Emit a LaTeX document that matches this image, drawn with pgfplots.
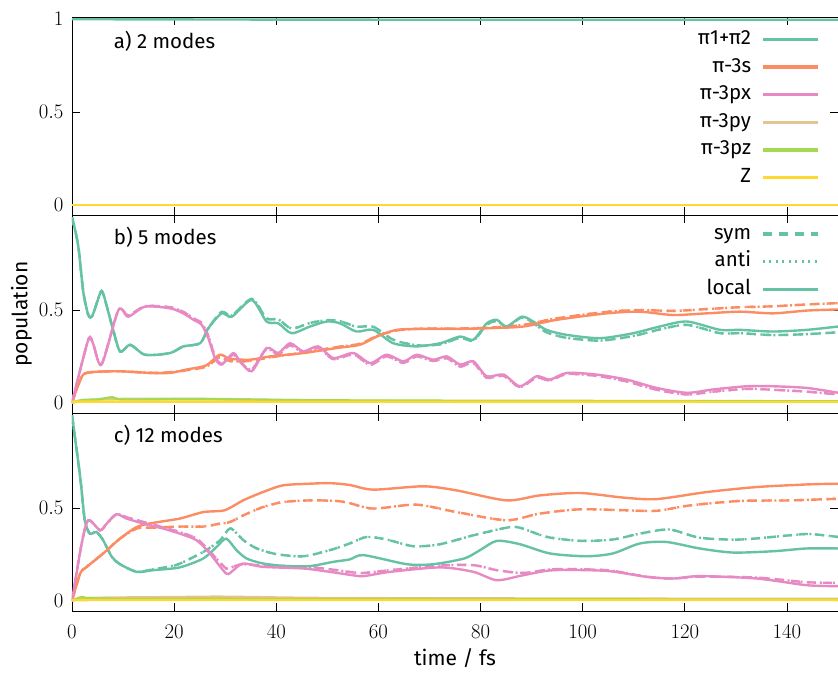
\documentclass[border=0pt]{standalone}
\usepackage{pgfplots}
\pgfplotsset{compat=1.18}
\usepackage{pgfplotstable}
\usepackage{fontspec}
\setmainfont{Fira Sans}

\definecolor{cG}{HTML}{66C2A5}
\definecolor{cO}{HTML}{FC8D62}
\definecolor{cP}{HTML}{E78AC3}
\definecolor{cT}{HTML}{E5C494}
\definecolor{cL}{HTML}{A6D854}
\definecolor{cY}{HTML}{FFD92F}

% ---- panel b (5 modes)
\pgfplotstableread{
t y
0 1.0
1.2 0.85
2.2 0.60
3.2 0.473
4.0 0.47
5.5 0.589
6.1 0.589
7.8 0.42
9.4 0.277
11.4 0.313
14.3 0.259
19.2 0.268
21.8 0.304
25.1 0.321
26.7 0.402
29.3 0.482
31.3 0.464
35.2 0.554
38.1 0.438
40.4 0.428
43.0 0.375
46.6 0.411
49.9 0.438
52.5 0.428
55.7 0.384
59.0 0.393
62.9 0.321
67.5 0.304
72.1 0.321
76.0 0.357
78.6 0.34
81.2 0.428
83.2 0.447
85.1 0.411
88.1 0.464
90.3 0.438
92.9 0.393
96.9 0.366
103.4 0.348
109.9 0.375
115.1 0.411
120.4 0.438
126.9 0.393
130.8 0.393
137.3 0.384
143.9 0.393
150 0.411
}\bGl
\pgfplotstableread{
t y
0 1.0
1.2 0.85
2.2 0.60
3.2 0.473
4.0 0.47
5.5 0.589
6.1 0.589
7.8 0.42
9.4 0.277
11.4 0.313
14.3 0.259
19.2 0.268
21.8 0.304
25.1 0.321
26.7 0.402
29.3 0.49
31.3 0.47
35.2 0.56
38.1 0.455
40.4 0.45
43.0 0.40
46.6 0.43
49.9 0.445
52.5 0.44
55.7 0.41
59.0 0.41
62.9 0.34
67.5 0.31
72.1 0.315
76.0 0.35
78.6 0.335
81.2 0.42
83.2 0.44
85.1 0.41
88.1 0.46
90.3 0.43
92.9 0.38
96.9 0.35
103.4 0.335
109.9 0.36
115.1 0.395
120.4 0.42
126.9 0.375
130.8 0.375
137.3 0.365
143.9 0.37
150 0.38
}\bGs
\pgfplotstableread{
t y
0 0
1.0 0.08
2.2 0.152
4.2 0.166
9.4 0.17
15.3 0.161
19.2 0.161
22.4 0.179
26.3 0.202
28.9 0.259
30.9 0.238
34.8 0.232
38.8 0.25
45.3 0.268
51.8 0.295
56.4 0.313
59.7 0.357
63.6 0.393
68.8 0.398
75.3 0.398
81.8 0.402
88.4 0.411
94.9 0.447
104.7 0.482
111.2 0.491
117.7 0.473
124.3 0.482
130.8 0.491
137.3 0.482
143.9 0.497
150 0.503
}\bOl
\pgfplotstableread{
t y
0 0
1.0 0.08
2.2 0.152
4.2 0.166
9.4 0.17
15.3 0.161
19.2 0.165
22.4 0.175
26.3 0.195
28.9 0.245
30.9 0.225
34.8 0.225
38.8 0.245
45.3 0.27
51.8 0.30
56.4 0.318
59.7 0.36
63.6 0.39
68.8 0.40
75.3 0.40
81.8 0.405
88.4 0.42
94.9 0.455
104.7 0.49
111.2 0.50
117.7 0.495
124.3 0.505
130.8 0.515
137.3 0.52
143.9 0.53
150 0.537
}\bOs
\pgfplotstableread{
t y
0 0
3.2 0.34
4.2 0.313
5.8 0.206
9.1 0.5
11.0 0.464
14.3 0.518
19.2 0.509
21.8 0.482
23.8 0.447
25.4 0.42
26.7 0.348
28.0 0.241
29.3 0.206
31.6 0.268
32.9 0.223
35.2 0.17
38.1 0.295
40.4 0.268
42.7 0.321
45.3 0.277
48.2 0.304
51.2 0.241
55.1 0.268
58.4 0.214
61.6 0.259
64.9 0.223
67.5 0.259
70.7 0.232
73.4 0.25
76.0 0.206
78.6 0.223
81.2 0.143
84.5 0.152
87.7 0.089
91.0 0.143
93.6 0.125
96.9 0.161
102.7 0.152
108.6 0.125
114.5 0.08
120.4 0.054
125.6 0.072
132.1 0.089
137.3 0.089
143.9 0.08
150 0.054
}\bPl
\pgfplotstableread{
t y
0 0
3.2 0.34
4.2 0.31
5.8 0.21
9.1 0.5
11.0 0.47
14.3 0.52
19.2 0.515
21.8 0.49
23.8 0.455
25.4 0.43
26.7 0.36
28.0 0.25
29.3 0.21
31.6 0.26
32.9 0.22
35.2 0.18
38.1 0.29
40.4 0.26
42.7 0.31
45.3 0.27
48.2 0.295
51.2 0.235
55.1 0.26
58.4 0.205
61.6 0.25
64.9 0.215
67.5 0.25
70.7 0.225
73.4 0.24
76.0 0.195
78.6 0.215
81.2 0.135
84.5 0.145
87.7 0.085
91.0 0.135
93.6 0.12
96.9 0.155
102.7 0.145
108.6 0.115
114.5 0.07
120.4 0.045
125.6 0.06
132.1 0.075
137.3 0.07
143.9 0.06
150 0.045
}\bPs

% ---- panel c (12 modes)
\pgfplotstableread{
t y
0 1.0
1.6 0.667
2.5 0.434
3.5 0.362
4.8 0.371
6.1 0.326
7.8 0.237
9.4 0.197
12.7 0.156
15.9 0.165
21.1 0.18
25.7 0.228
28.3 0.29
30.2 0.335
32.2 0.273
34.2 0.228
37.4 0.201
42.0 0.187
46.6 0.187
51.2 0.21
54.4 0.223
57.1 0.246
65.6 0.197
70.7 0.197
76.8 0.228
79.9 0.273
83.2 0.323
87.7 0.305
93.6 0.255
100.7 0.24
105.9 0.255
111.2 0.309
116.4 0.317
122.9 0.282
129.4 0.26
137.3 0.267
143.9 0.282
150 0.282
}\cGl
\pgfplotstableread{
t y
0 1.0
1.6 0.667
2.5 0.434
3.5 0.362
4.8 0.371
6.1 0.326
7.8 0.237
9.4 0.197
12.7 0.156
15.9 0.17
19.2 0.185
21.1 0.2
25.7 0.263
29.0 0.326
31.0 0.39
33.6 0.326
36.2 0.282
40.1 0.251
45.3 0.24
50.5 0.273
54.4 0.309
57.7 0.344
61.6 0.33
66.9 0.294
72.1 0.305
78.6 0.353
85.1 0.394
87.7 0.394
93.0 0.344
99.5 0.323
105.9 0.33
111.2 0.362
117.0 0.384
122.9 0.34
130.8 0.33
140.6 0.353
144.5 0.36
150 0.344
}\cGs
\pgfplotstableread{
t y
0 0
1.6 0.147
2.9 0.183
6.1 0.255
9.4 0.335
12.7 0.398
15.9 0.42
21.1 0.443
25.7 0.478
29.9 0.488
33.5 0.541
37.4 0.586
41.3 0.622
46.6 0.631
50.5 0.634
54.4 0.624
59.0 0.599
68.8 0.617
75.3 0.595
85.1 0.541
91.6 0.568
99.5 0.581
108.0 0.556
114.5 0.548
124.3 0.586
134.1 0.613
143.9 0.627
150 0.631
}\cOl
\pgfplotstableread{
t y
0 0
1.6 0.147
2.9 0.183
6.1 0.255
9.4 0.335
12.7 0.39
15.9 0.394
21.1 0.40
25.7 0.40
29.0 0.416
31.0 0.425
33.6 0.461
37.4 0.505
41.3 0.532
46.6 0.541
51.8 0.538
54.4 0.526
59.0 0.497
67.5 0.518
75.3 0.478
85.1 0.434
91.6 0.47
99.5 0.493
108.0 0.488
114.5 0.485
121.0 0.514
130.8 0.538
140.6 0.541
150 0.55
}\cOs
\pgfplotstableread{
t y
0 0
1.9 0.309
3.2 0.434
5.5 0.38
6.8 0.416
8.7 0.466
10.7 0.443
14.0 0.416
17.9 0.389
21.1 0.362
24.4 0.326
27.0 0.255
30.2 0.147
31.6 0.165
33.5 0.201
37.4 0.183
45.3 0.174
50.5 0.156
54.4 0.14
57.1 0.133
62.3 0.156
72.1 0.18
78.6 0.156
83.2 0.111
88.4 0.138
94.3 0.165
104.7 0.161
112.5 0.129
117.7 0.12
122.9 0.133
134.1 0.12
143.9 0.084
150 0.079
}\cPl
\pgfplotstableread{
t y
0 0
1.9 0.309
3.2 0.434
5.5 0.38
6.8 0.416
8.7 0.466
10.7 0.45
14.0 0.425
17.9 0.395
21.1 0.37
24.4 0.335
27.0 0.265
30.2 0.174
31.6 0.185
33.5 0.197
37.4 0.19
45.3 0.185
50.5 0.17
54.4 0.155
57.1 0.15
62.3 0.165
72.1 0.19
78.6 0.192
83.2 0.165
88.4 0.15
94.3 0.17
104.7 0.165
112.5 0.13
117.7 0.12
122.9 0.13
134.1 0.125
143.9 0.1
150 0.097
}\cPs

\pgfplotsset{
  panel/.style={
    scale only axis, width=766pt, height=198pt,
    xmin=0, xmax=150, ymin=-0.055, ymax=1.012,
    xtick={0,20,...,140},
    tick align=inside, major tick length=8pt,
    every tick/.style={black, line width=0.8pt},
    axis line style={line width=0.8pt},
    tick label style={font=\fontsize{21.5}{24}\selectfont},
    xticklabel style={yshift=-11pt},
    yticklabel style={xshift=-5pt},
    label style={font=\fontsize{21}{24}\selectfont},
    xlabel style={yshift=-3pt},
    every axis plot/.append style={line width=2.4pt, smooth, tension=0.45},
    legend plot pos=right,
    legend cell align=right,
    legend image code/.code={\draw[line width=3.4pt,#1] (0pt,0pt) -- (55pt,0pt);},
    legend style={draw=none, fill=none, font=\fontsize{20.5}{24}\selectfont,
      anchor=north east, row sep=3.6pt,
      nodes={inner sep=2pt, text height=15pt, text depth=5pt},
      /tikz/every odd column/.append style={column sep=8pt}},
  },
  sym/.style={dash pattern=on 9pt off 7pt},
  anti/.style={dash pattern=on 2pt off 4.5pt},
}

\begin{document}
\begin{tikzpicture}
\useasboundingbox (0,0) rectangle (838pt,677pt);

% a) 2 modes
\begin{axis}[panel, at={(72pt,462pt)}, anchor=south west,
  ytick={0,0.5,1}, xticklabels={},
  legend style={at={(rel axis cs:0.98,0.958)}}]
\addlegendimage{cG}\addlegendentry{π1+π2}
\addlegendimage{cO}\addlegendentry{π-3s}
\addlegendimage{cP}\addlegendentry{π-3px}
\addlegendimage{cT}\addlegendentry{π-3py}
\addlegendimage{cL}\addlegendentry{π-3pz}
\addlegendimage{cY}\addlegendentry{Z}
\addplot[cG, forget plot] coordinates {(0,1) (40,0.998) (80,0.997) (150,0.997)};
\addplot[cO, forget plot] coordinates {(0,0) (150,0)};
\addplot[cP, forget plot] coordinates {(0,0) (150,0)};
\addplot[cT, forget plot] coordinates {(0,0) (150,0)};
\addplot[cL, forget plot] coordinates {(0,0) (150,0)};
\addplot[cY, forget plot] coordinates {(0,0) (150,0)};
\node[anchor=west, font=\fontsize{20.5}{24}\selectfont] at (rel axis cs:0.05,0.875) {a) 2 modes};
\end{axis}

% b) 5 modes
\begin{axis}[panel, at={(72pt,264pt)}, anchor=south west,
  ytick={0,0.5}, xticklabels={}, ylabel={population},
  legend style={at={(rel axis cs:0.98,0.975)}}]
\addlegendimage{cG, sym}\addlegendentry{sym}
\addlegendimage{cG, anti}\addlegendentry{anti}
\addlegendimage{cG}\addlegendentry{local}
\addplot[cG, sym, forget plot] table {\bGs};
\addplot[cO, sym, forget plot] table {\bOs};
\addplot[cP, sym, forget plot] table {\bPs};
\addplot[cG, anti, forget plot] table {\bGs};
\addplot[cO, anti, forget plot] table {\bOs};
\addplot[cP, anti, forget plot] table {\bPs};
\addplot[cG, forget plot] table {\bGl};
\addplot[cO, forget plot] table {\bOl};
\addplot[cP, forget plot] table {\bPl};
\addplot[cT, forget plot] coordinates {(0,0) (2,0.012) (8,0.02) (20,0.022) (35,0.018) (50,0.012) (80,0.008) (150,0.006)};
\addplot[cL, forget plot] coordinates {(0,0) (2,0.015) (5,0.018) (8,0.03) (10,0.018) (25,0.02) (40,0.015) (60,0.012) (100,0.01) (150,0.008)};
\addplot[cY, forget plot] coordinates {(0,0) (3,0.006) (150,0.004)};
\node[anchor=west, font=\fontsize{20.5}{24}\selectfont] at (rel axis cs:0.05,0.885) {b) 5 modes};
\end{axis}

% c) 12 modes
\begin{axis}[panel, at={(72pt,66pt)}, anchor=south west,
  ytick={0,0.5}, xlabel={time / fs}]
\addplot[cG, sym] table {\cGs};
\addplot[cO, sym] table {\cOs};
\addplot[cP, sym] table {\cPs};
\addplot[cG, anti] table {\cGs};
\addplot[cO, anti] table {\cOs};
\addplot[cP, anti] table {\cPs};
\addplot[cG] table {\cGl};
\addplot[cO] table {\cOl};
\addplot[cP] table {\cPl};
\addplot[cT] coordinates {(0,0) (3,0.015) (20,0.02) (30,0.022) (50,0.015) (100,0.012) (150,0.01)};
\addplot[cL] coordinates {(0,0) (2,0.02) (5,0.012) (30,0.01) (150,0.006)};
\addplot[cY] coordinates {(0,0) (3,0.004) (150,0.004)};
\node[anchor=west, font=\fontsize{20.5}{24}\selectfont] at (rel axis cs:0.05,0.885) {c) 12 modes};
\end{axis}
\end{tikzpicture}
\end{document}
